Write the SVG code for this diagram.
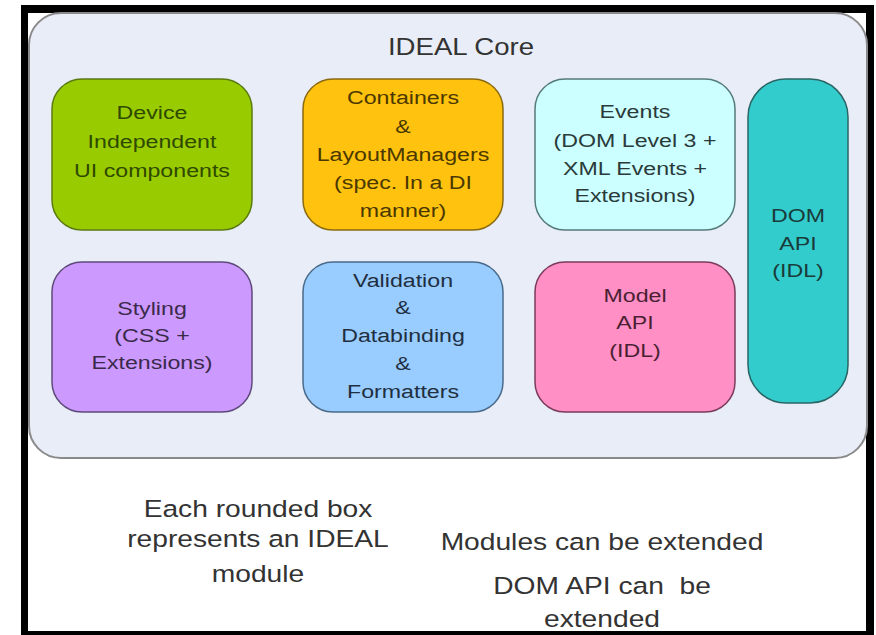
<svg xmlns="http://www.w3.org/2000/svg" width="876" height="635" viewBox="0 0 876 635">
<style>
.t{font-family:"Liberation Sans",Arial,sans-serif;text-anchor:middle}
.b{font-size:19px}
.n{stroke-width:1.5}
</style>
<rect x="0" y="0" width="876" height="635" fill="#ffffff"/>
<g id="frame">
<path d="M21 5H874V635H21Z M28 13V631H866V13Z" fill="#000000" fill-rule="evenodd"/>
</g>
<g id="core">
<rect x="29" y="13" width="838" height="445" rx="32" fill="#e8edf7" stroke="#8a8a8a" stroke-width="2"/>
<text class="t" transform="translate(461 55) scale(1.2 1)" font-size="23" fill="#333333">IDEAL Core</text>
</g>
<g id="connectors"></g>
<g id="ui">
<rect class="n" x="52" y="79" width="200" height="151" rx="30" fill="#99cc00" stroke="#5b7a12"/>
<g transform="translate(152 0) scale(1.22 1)" class="t b" fill="#2f4a00">
<text x="0" y="119">Device</text><text x="0" y="148">Independent</text><text x="0" y="177">UI components</text></g>
</g>
<g id="containers">
<rect class="n" x="303" y="79" width="200" height="151" rx="30" fill="#ffc20e" stroke="#8a6a10"/>
<g transform="translate(403 0) scale(1.22 1)" class="t b" fill="#4a3800">
<text x="0" y="104">Containers</text><text x="0" y="133">&amp;</text><text x="0" y="161">LayoutManagers</text><text x="0" y="189">(spec. In a DI</text><text x="0" y="217">manner)</text></g>
</g>
<g id="events">
<rect class="n" x="535" y="79" width="200" height="151" rx="30" fill="#ccffff" stroke="#557a7a"/>
<g transform="translate(635 0) scale(1.22 1)" class="t b" fill="#2a3a3a">
<text x="0" y="118">Events</text><text x="0" y="147">(DOM Level 3 +</text><text x="0" y="175">XML Events +</text><text x="0" y="202">Extensions)</text></g>
</g>
<g id="domapi">
<rect class="n" x="748" y="79" width="100" height="324" rx="38" fill="#33cccc" stroke="#2a6666"/>
<g transform="translate(798 0) scale(1.22 1)" class="t b" fill="#1a3a3a">
<text x="0" y="222">DOM</text><text x="0" y="250">API</text><text x="0" y="277">(IDL)</text></g>
</g>
<g id="styling">
<rect class="n" x="52" y="262" width="200" height="150" rx="30" fill="#cc99ff" stroke="#5e4a7a"/>
<g transform="translate(152 0) scale(1.22 1)" class="t b" fill="#3a2a4a">
<text x="0" y="315">Styling</text><text x="0" y="342">(CSS +</text><text x="0" y="369">Extensions)</text></g>
</g>
<g id="validation">
<rect class="n" x="303" y="262" width="200" height="150" rx="30" fill="#99ccff" stroke="#4a6a8a"/>
<g transform="translate(403 0) scale(1.22 1)" class="t b" fill="#1f2f3f">
<text x="0" y="287">Validation</text><text x="0" y="314">&amp;</text><text x="0" y="342">Databinding</text><text x="0" y="370">&amp;</text><text x="0" y="398">Formatters</text></g>
</g>
<g id="model">
<rect class="n" x="535" y="262" width="200" height="150" rx="30" fill="#ff8fc4" stroke="#7a3a5a"/>
<g transform="translate(635 0) scale(1.22 1)" class="t b" fill="#4a1f33">
<text x="0" y="302">Model</text><text x="0" y="329">API</text><text x="0" y="357">(IDL)</text></g>
</g>
<g id="notes" fill="#333333">
<g transform="translate(258 0) scale(1.2 1)" class="t" font-size="23.5">
<text x="0" y="517">Each rounded box</text><text x="0" y="547">represents an IDEAL</text><text x="0" y="582">module</text></g>
<g transform="translate(602 0) scale(1.2 1)" class="t" font-size="23.5">
<text x="0" y="550">Modules can be extended</text><text x="0" y="594" xml:space="preserve">DOM API can  be</text><text x="0" y="627">extended</text></g>
</g>
</svg>
